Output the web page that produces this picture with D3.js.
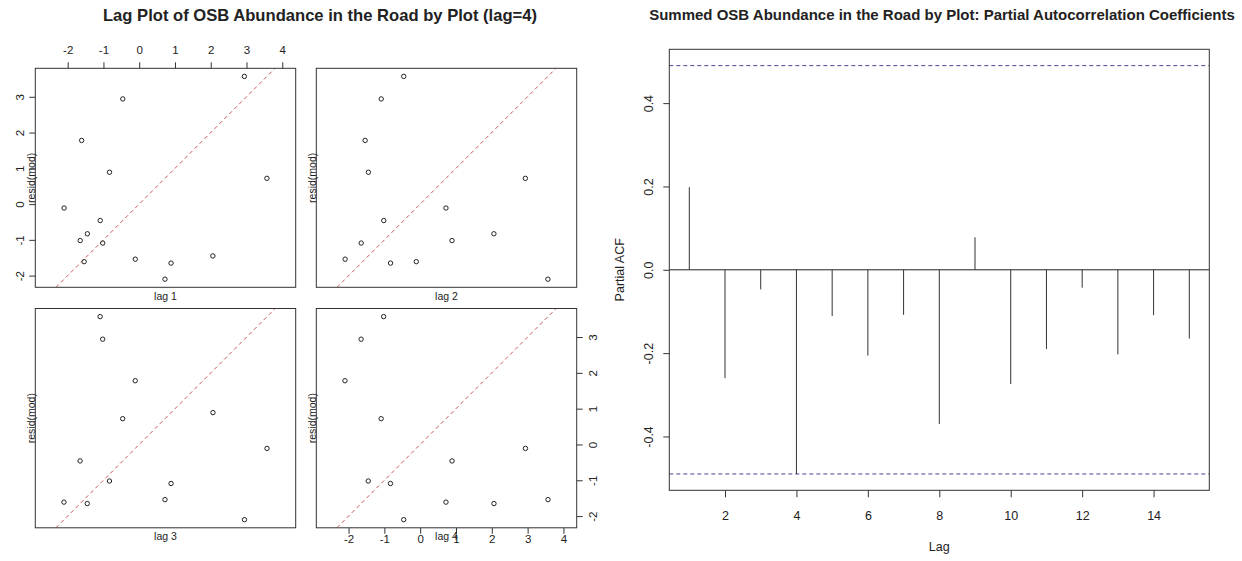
<!DOCTYPE html>
<html>
<head>
<meta charset="utf-8">
<script src="https://cdn.jsdelivr.net/npm/d3@7"></script>
<style>
  html, body { margin: 0; padding: 0; background: #fff; }
  svg { display: block; }
  text { font-family: "Liberation Sans", Arial, sans-serif; fill: #222; }
</style>
</head>
<body>
<svg id="chart" width="1242" height="561"></svg>
<script>
// Model residuals, in plot order
const resid = [2.06, -1.45, -0.83, 0.89, -1.65, -1.02, -1.09, -0.46, 2.94, 3.57, 0.72, -2.10, -0.11, -1.54, -1.61, 1.78];
const lagOrders = [1, 2, 3, 4];
const lagXTicks = [-2, -1, 0, 1, 2, 3, 4];
const lagYTicks = [-2, -1, 0, 1, 2, 3];

// Partial autocorrelation of the summed abundance
const pacfLags = [1, 2, 3, 4, 5, 6, 7, 8, 9, 10, 11, 12, 13, 14, 15];
const pacfValues = [0.198, -0.260, -0.047, -0.490, -0.111, -0.206, -0.108, -0.370, 0.078, -0.274, -0.190, -0.043, -0.203, -0.109, -0.165];
const pacfXTicks = [2, 4, 6, 8, 10, 12, 14];
const pacfYTicks = [-0.4, -0.2, 0.0, 0.2, 0.4];

const titleLeft = "Lag Plot of OSB Abundance in the Road by Plot (lag=4)";
const titleRight = "Summed OSB Abundance in the Road by Plot: Partial Autocorrelation Coefficients";

const svg = d3.select("#chart");
const boxColor = "#333";
const intFmt = d => String(d);          // plain hyphen minus
const decFmt = d => d.toFixed(1);

// Pad a [lo, hi] range by 4% on each side
function pad4(lo, hi) {
  const d = (hi - lo) * 0.04;
  return [lo - d, hi + d];
}

// Rotate y tick labels so they read bottom-to-top, centred at offset from the axis
function rotateYLabels(g, offset) {
  g.selectAll(".tick text")
    .attr("x", 0)
    .attr("y", offset)
    .attr("dy", "0.35em")
    .attr("text-anchor", "middle")
    .attr("transform", "rotate(-90)");
}

/* ---------------- Lag plots ---------------- */
const colX = [[35.3, 295.7], [316.3, 576.7]];
const rowY = [[68.3, 287.3], [308.5, 527.8]];
const tickFont = "11.5px";
const labFont = "10.5px";

const yLim = pad4(d3.min(resid), d3.max(resid));

lagOrders.forEach((k, i) => {
  const c = i % 2, r = Math.floor(i / 2);
  const [x0, x1] = colX[c];
  const [y0, y1] = rowY[r];
  const h = y1 - y0, w = x1 - x0;
  // equal aspect: x range widened to keep one unit the same length on both axes
  const pxPerUnit = h / (yLim[1] - yLim[0]);
  const mid = (yLim[0] + yLim[1]) / 2;
  const halfX = w / pxPerUnit / 2;
  const x = d3.scaleLinear().domain([mid - halfX, mid + halfX]).range([x0, x1]);
  const y = d3.scaleLinear().domain(yLim).range([y1, y0]);

  const g = svg.append("g");

  const pts = d3.range(k, resid.length).map(t => ({ lagged: resid[t - k], cur: resid[t] }));

  const clipId = "clip" + k;
  g.append("clipPath").attr("id", clipId)
    .append("rect").attr("x", x0).attr("y", y0).attr("width", w).attr("height", h);

  // reference diagonal y = x
  const lo = Math.max(x.domain()[0], y.domain()[0]);
  const hi = Math.min(x.domain()[1], y.domain()[1]);
  g.append("line")
    .attr("clip-path", `url(#${clipId})`)
    .attr("x1", x(lo)).attr("y1", y(lo))
    .attr("x2", x(hi)).attr("y2", y(hi))
    .attr("stroke", "#c65a5a").attr("stroke-width", 1)
    .attr("stroke-dasharray", "4,3");

  g.selectAll("circle.pt").data(pts).enter().append("circle")
    .attr("class", "pt")
    .attr("cx", d => x(d.lagged)).attr("cy", d => y(d.cur))
    .attr("r", 2.2)
    .attr("fill", "none").attr("stroke", "#222").attr("stroke-width", 1);

  g.append("rect")
    .attr("x", x0).attr("y", y0).attr("width", w).attr("height", h)
    .attr("fill", "none").attr("stroke", boxColor).attr("stroke-width", 1);

  // axes alternate: top/left on the first panel, bottom/right on the last
  if (i === 0) {
    const ax = g.append("g").attr("transform", `translate(0,${y0})`)
      .call(d3.axisTop(x).tickValues(lagXTicks).tickSize(6).tickSizeOuter(0).tickFormat(intFmt));
    ax.select(".domain").remove();
    ax.selectAll(".tick text").attr("y", -18).attr("dy", "0.35em").style("font-size", tickFont);
    const ay = g.append("g").attr("transform", `translate(${x0},0)`)
      .call(d3.axisLeft(y).tickValues(lagYTicks).tickSize(6).tickSizeOuter(0).tickFormat(intFmt));
    ay.select(".domain").remove();
    rotateYLabels(ay, -15);
    ay.selectAll(".tick text").style("font-size", tickFont);
  }
  if (i === 3) {
    const ax = g.append("g").attr("transform", `translate(0,${y1})`)
      .call(d3.axisBottom(x).tickValues(lagXTicks).tickSize(6).tickSizeOuter(0).tickFormat(intFmt));
    ax.select(".domain").remove();
    ax.selectAll(".tick text").attr("y", 11.5).attr("dy", "0.35em").style("font-size", tickFont);
    const ay = g.append("g").attr("transform", `translate(${x1},0)`)
      .call(d3.axisRight(y).tickValues(lagYTicks).tickSize(6).tickSizeOuter(0).tickFormat(intFmt));
    ay.select(".domain").remove();
    rotateYLabels(ay, 16.5);
    ay.selectAll(".tick text").style("font-size", tickFont);
  }
  svg.selectAll(".tick line").attr("stroke", boxColor);

  // panel labels
  g.append("text")
    .attr("x", (x0 + x1) / 2).attr("y", y1 + 9).attr("dy", "0.35em")
    .attr("text-anchor", "middle").style("font-size", labFont)
    .text("lag " + k);
  const ylx = c === 0 ? 31 : 312.5;
  g.append("text")
    .attr("transform", `translate(${ylx},${(y0 + y1) / 2}) rotate(-90)`)
    .attr("dy", "0.35em")
    .attr("text-anchor", "middle").style("font-size", labFont)
    .text("resid(mod)");
});

svg.append("text")
  .attr("x", 320).attr("y", 15).attr("dy", "0.35em")
  .attr("text-anchor", "middle")
  .style("font-size", "16.6px").style("font-weight", "bold")
  .text(titleLeft);

/* ---------------- PACF ---------------- */
const pL = 669.3, pR = 1209.3, pT = 49.3, pB = 490.3;
const clim = 1.96 / Math.sqrt(resid.length);

const px = d3.scaleLinear()
  .domain(pad4(d3.min(pacfLags), d3.max(pacfLags)))
  .range([pL, pR]);
const py = d3.scaleLinear()
  .domain(pad4(Math.min(-clim, d3.min(pacfValues)), Math.max(clim, d3.max(pacfValues))))
  .range([pB, pT]);

const pg = svg.append("g");

pg.append("line")
  .attr("x1", pL).attr("x2", pR).attr("y1", py(0)).attr("y2", py(0))
  .attr("stroke", "#222").attr("stroke-width", 1);

[clim, -clim].forEach(v => {
  pg.append("line")
    .attr("x1", pL).attr("x2", pR).attr("y1", py(v)).attr("y2", py(v))
    .attr("stroke", "#45459a").attr("stroke-width", 1)
    .attr("stroke-dasharray", "4,3");
});

pg.selectAll("line.spike").data(pacfLags).enter().append("line")
  .attr("class", "spike")
  .attr("x1", d => px(d)).attr("x2", d => px(d))
  .attr("y1", py(0)).attr("y2", (d, i) => py(pacfValues[i]))
  .attr("stroke", "#333").attr("stroke-width", 1);

pg.append("rect")
  .attr("x", pL).attr("y", pT).attr("width", pR - pL).attr("height", pB - pT)
  .attr("fill", "none").attr("stroke", boxColor).attr("stroke-width", 1);

const pax = pg.append("g").attr("transform", `translate(0,${pB})`)
  .call(d3.axisBottom(px).tickValues(pacfXTicks).tickSize(7).tickSizeOuter(0).tickFormat(intFmt));
pax.select(".domain").remove();
pax.selectAll(".tick text").attr("y", 25.5).attr("dy", "0.35em").style("font-size", "12.5px");

const pay = pg.append("g").attr("transform", `translate(${pL},0)`)
  .call(d3.axisLeft(py).tickValues(pacfYTicks).tickSize(6).tickSizeOuter(0).tickFormat(decFmt));
pay.select(".domain").remove();
rotateYLabels(pay, -21);
pay.selectAll(".tick text").style("font-size", "12.5px");
pg.selectAll(".tick line").attr("stroke", boxColor);

pg.append("text")
  .attr("x", (pL + pR) / 2).attr("y", 546.7).attr("dy", "0.35em")
  .attr("text-anchor", "middle").style("font-size", "12.5px")
  .text("Lag");
pg.append("text")
  .attr("transform", `translate(620,${(pT + pB) / 2}) rotate(-90)`)
  .attr("dy", "0.35em")
  .attr("text-anchor", "middle").style("font-size", "12.5px")
  .text("Partial ACF");

svg.append("text")
  .attr("x", 942).attr("y", 15).attr("dy", "0.35em")
  .attr("text-anchor", "middle")
  .style("font-size", "15px").style("font-weight", "bold")
  .text(titleRight);
</script>
</body>
</html>
